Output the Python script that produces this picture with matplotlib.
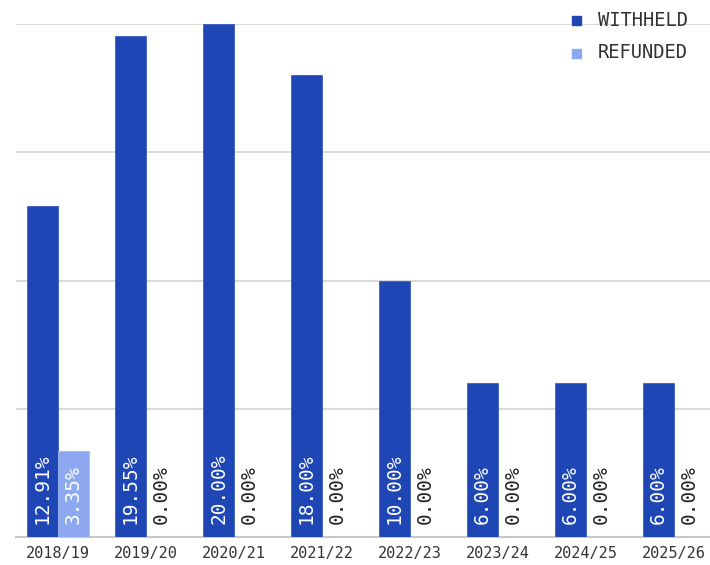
import matplotlib.pyplot as plt
import numpy as np

years = ['2018/19', '2019/20', '2020/21', '2021/22', '2022/23', '2023/24', '2024/25', '2025/26']
withheld = [12.91, 19.55, 20.00, 18.00, 10.00, 6.00, 6.00, 6.00]
refunded = [3.35, 0.00, 0.00, 0.00, 0.00, 0.00, 0.00, 0.00]

c_with = '#1e46b4'
c_ref = '#8ca8f0'
mono = 'DejaVu Sans Mono'

fig = plt.figure(figsize=(7.1, 5.65), dpi=100)
ax = fig.add_axes([16 / 710, 1 - 537 / 565, 694 / 710, 513 / 565])

x = np.arange(len(years))
w = 31 / 88
ax.bar(x - w / 2, withheld, w, color=c_with, edgecolor='#3a5cc4', linewidth=0.6, zorder=3)
ax.bar(x + w / 2, refunded, w, color=c_ref, edgecolor='#a0b8f4', linewidth=0.6, zorder=3)

for i in range(len(years)):
    ax.text(x[i] - w / 2, 0.5, '%.2f%%' % withheld[i], rotation=90, ha='center', va='bottom',
            color='white', fontsize=14, family=mono, zorder=4)
    col = 'white' if refunded[i] > 2 else '#222222'
    ax.text(x[i] + w / 2, 0.5, '%.2f%%' % refunded[i], rotation=90, ha='center', va='bottom',
            color=col, fontsize=14, family=mono, zorder=4)

ax.set_xlim(-42 / 88, 7 + 36 / 88)
ax.set_ylim(0, 20)
ax.set_yticks([0, 5, 10, 15, 20])
ax.yaxis.grid(True, color='#d4d4d4', linewidth=1.2, zorder=0)
ax.tick_params(axis='y', left=False, labelleft=False)
ax.set_xticks(x)
ax.set_xticklabels(years, family=mono, fontsize=11, color='#333333')
ax.tick_params(axis='x', bottom=False, pad=3)
for s in ['top', 'right', 'left']:
    ax.spines[s].set_visible(False)
ax.spines['bottom'].set_color('#c8c8c8')
ax.spines['bottom'].set_linewidth(1.5)

# legend drawn by hand in figure coords
for j, (lab, col) in enumerate([('WITHHELD', c_with), ('REFUNDED', c_ref)]):
    yy = 1 - (20 + 33 * j) / 565
    fig.patches.append(plt.Rectangle((572 / 710, yy - 4.5 / 565), 9 / 710, 9 / 565,
                                     transform=fig.transFigure, color=col, figure=fig))
    fig.text(598 / 710, yy, lab, family=mono, fontsize=13.5, color='#333333', va='center', ha='left')

fig.savefig('out.png', dpi=100)
